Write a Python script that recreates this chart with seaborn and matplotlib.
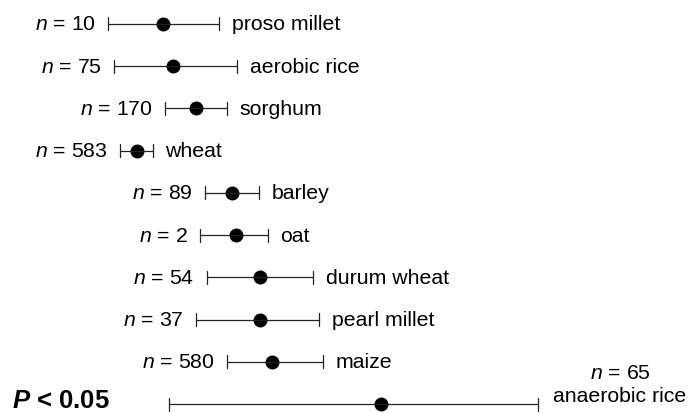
import pandas as pd
import numpy as np
import matplotlib
matplotlib.use("Agg")
import matplotlib.pyplot as plt
import seaborn as sns

# crops top to bottom, sample sizes and interval
crops = ["proso millet", "aerobic rice", "sorghum", "wheat", "barley", "oat",
         "durum wheat", "pearl millet", "maize", "anaerobic rice"]
n_obs = [10, 75, 170, 583, 89, 2, 54, 37, 580, 65]
lower = [1.08, 1.14, 1.65, 1.20, 2.05, 2.00, 2.07, 1.96, 2.27, 1.69]
mean = [1.63, 1.73, 1.96, 1.37, 2.32, 2.36, 2.60, 2.60, 2.72, 3.81]
upper = [2.19, 2.37, 2.27, 1.53, 2.59, 2.68, 3.13, 3.19, 3.23, 5.38]

# long table: lower / mean / upper per crop, median gives the mean, min/max the interval
rows = []
for c, lo, m, hi in zip(crops, lower, mean, upper):
    for v in (lo, m, hi):
        rows.append({"crop": c, "value": v})
df = pd.DataFrame(rows)

sns.set_theme(style="white")
plt.rcParams["font.family"] = ["Liberation Sans", "DejaVu Sans"]
plt.rcParams["text.color"] = "black"
plt.rcParams["mathtext.fontset"] = "custom"
plt.rcParams["mathtext.it"] = "Liberation Sans:italic"
plt.rcParams["mathtext.rm"] = "Liberation Sans"
plt.rcParams["mathtext.bfit"] = "Liberation Sans:italic:bold"

fig = plt.figure(figsize=(6.9, 4.14), dpi=100)
ax = fig.add_axes([0, 0, 1, 1])

sns.pointplot(data=df, x="value", y="crop", order=crops, orient="h",
              estimator="median", errorbar=lambda v: (v.min(), v.max()),
              color="black", linestyle="none", marker="o", markersize=8,
              capsize=0.31, err_kws={"linewidth": 0.9, "color": "#222222"}, ax=ax)

ax.set_xlim(0, 6.9)
ax.set_ylim(9.21, -0.59)
ax.axis("off")

fs = 15.3
last = len(crops) - 1
for i, (c, n, lo, hi) in enumerate(zip(crops, n_obs, lower, upper)):
    if i == last:
        # last row: n label sits above the crop name, to the right
        ax.annotate(c, xy=(hi, i), xytext=(11, 2), textcoords="offset points",
                    ha="left", va="baseline", fontsize=fs)
        ax.annotate(f"$n$ = {n}", xy=(hi, i), xytext=(59, 19), textcoords="offset points",
                    ha="center", va="baseline", fontsize=fs)
        continue
    ax.annotate(f"$n$ = {n}", xy=(lo, i), xytext=(-9, 0), textcoords="offset points",
                ha="right", va="center", fontsize=fs)
    ax.annotate(c, xy=(hi, i), xytext=(9, 0), textcoords="offset points",
                ha="left", va="center", fontsize=fs)

ax.annotate("$\\mathbfit{P}$ < 0.05", xy=(0.018, last), xycoords=("axes fraction", "data"),
            xytext=(0, -2.2), textcoords="offset points", ha="left", va="baseline",
            fontsize=18.5, fontweight="bold")

fig.savefig("out.png", dpi=100)
